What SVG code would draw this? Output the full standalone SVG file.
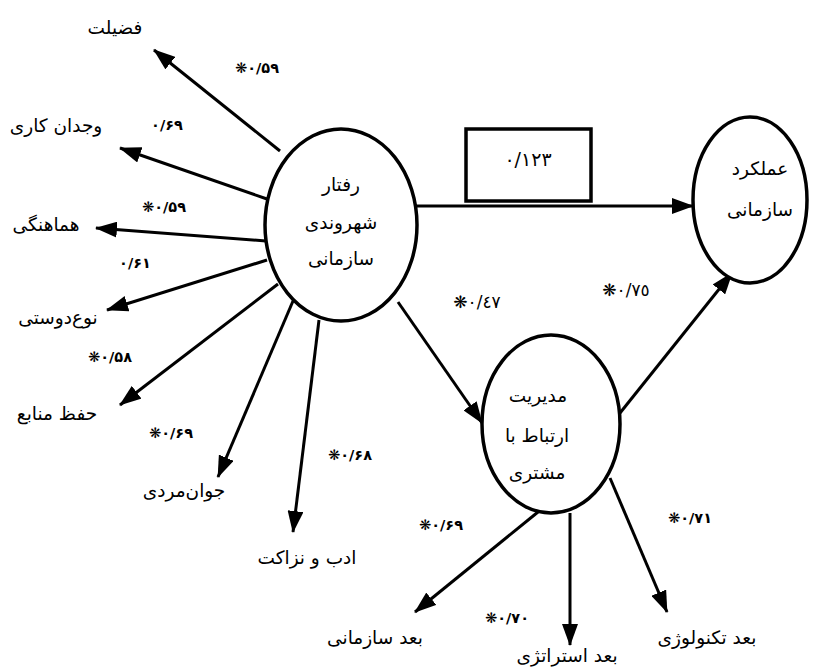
<svg xmlns="http://www.w3.org/2000/svg" width="818" height="669" viewBox="0 0 818 669">
<defs>
<marker id="ah" markerUnits="userSpaceOnUse" markerWidth="22" markerHeight="16" viewBox="0 0 22 16" refX="21" refY="8" orient="auto">
<path d="M0,0 L22,8 L0,16 z" fill="#000"/>
</marker>
<style>
.node ellipse{fill:#fff;stroke:#000;stroke-width:3.5}
.lbl{font-family:"DejaVu Sans","Noto Sans",sans-serif;font-size:18.5px;fill:#000;text-anchor:middle;dominant-baseline:central}
.num{font-family:"DejaVu Sans","Noto Sans",sans-serif;font-size:14.5px;font-weight:bold;fill:#000;text-anchor:middle;dominant-baseline:central;unicode-bidi:bidi-override;direction:ltr}
.big{font-weight:normal;font-size:17px}
.conn line{stroke:#000;stroke-width:3;marker-end:url(#ah)}
</style>
</defs>
<rect width="818" height="669" fill="#fff"/>
<g id="connectors" class="conn">
<line x1="280" y1="151" x2="154" y2="50"/>
<line x1="267" y1="199" x2="120" y2="148"/>
<line x1="266" y1="241" x2="96" y2="228"/>
<line x1="267" y1="260" x2="107" y2="310"/>
<line x1="278" y1="284" x2="120" y2="405"/>
<line x1="293" y1="301" x2="218" y2="477"/>
<line x1="319" y1="320" x2="293" y2="532"/>
<line x1="417" y1="206" x2="693" y2="206"/>
<line x1="398" y1="302" x2="482" y2="423"/>
<line x1="620" y1="413" x2="732" y2="273"/>
<line x1="538" y1="512" x2="415" y2="612"/>
<line x1="570" y1="513" x2="570" y2="645"/>
<line x1="610" y1="478" x2="667" y2="612"/>
</g>
<g id="n-ocb" class="node">
<ellipse cx="341" cy="225" rx="76" ry="96"/>
<text class="lbl" x="341" y="184">رفتار</text>
<text class="lbl" x="341" y="222">شهروندی</text>
<text class="lbl" x="341" y="258">سازمانی</text>
</g>
<g id="n-perf" class="node">
<ellipse cx="750" cy="200" rx="57" ry="83"/>
<text class="lbl" x="760" y="168">عملکرد</text>
<text class="lbl" x="760" y="209">سازمانی</text>
</g>
<g id="n-crm" class="node">
<ellipse cx="551" cy="424" rx="69" ry="89"/>
<text class="lbl" x="538" y="395">مدیریت</text>
<text class="lbl" x="537" y="435">ارتباط با</text>
<text class="lbl" x="537" y="472">مشتری</text>
</g>
<g id="n-box">
<rect x="466" y="129" width="125" height="72" fill="#fff" stroke="#000" stroke-width="3.5"/>
<text class="num" x="528" y="159" style="font-weight:normal;font-size:19px">۰/١٢٣</text>
</g>
<g id="n-fazilat"><text class="lbl" x="115" y="27">فضیلت</text></g>
<g id="n-vojdan"><text class="lbl" x="56" y="125">وجدان کاری</text></g>
<g id="n-hamahangi"><text class="lbl" x="46" y="224">هماهنگی</text></g>
<g id="n-nowdusti"><text class="lbl" x="58" y="317">نوع‌دوستی</text></g>
<g id="n-hefz"><text class="lbl" x="57" y="413">حفظ منابع</text></g>
<g id="n-javanmardi"><text class="lbl" x="184" y="490">جوان‌مردی</text></g>
<g id="n-adab"><text class="lbl" x="307" y="557">ادب و نزاکت</text></g>
<g id="n-sazmani"><text class="lbl" x="375" y="637">بعد سازمانی</text></g>
<g id="n-strategy"><text class="lbl" x="567" y="655">بعد استراتژی</text></g>
<g id="n-tech"><text class="lbl" x="707" y="637">بعد تکنولوژی</text></g>
<g id="coefs">
<text class="num" x="257" y="68">❋۰/۵۹</text>
<text class="num" x="167" y="125">۰/۶۹</text>
<text class="num" x="164" y="207">❋۰/۵۹</text>
<text class="num" x="135" y="263">۰/۶۱</text>
<text class="num" x="110" y="357">❋۰/۵۸</text>
<text class="num" x="171" y="433">❋۰/۶۹</text>
<text class="num" x="350" y="455">❋۰/۶۸</text>
<text class="num big" x="477" y="302">❋۰/٤٧</text>
<text class="num big" x="626" y="290">❋۰/٧٥</text>
<text class="num" x="441" y="525">❋۰/۶۹</text>
<text class="num" x="507" y="618">❋۰/۷۰</text>
<text class="num" x="690" y="518">❋۰/۷۱</text>
</g>
</svg>
